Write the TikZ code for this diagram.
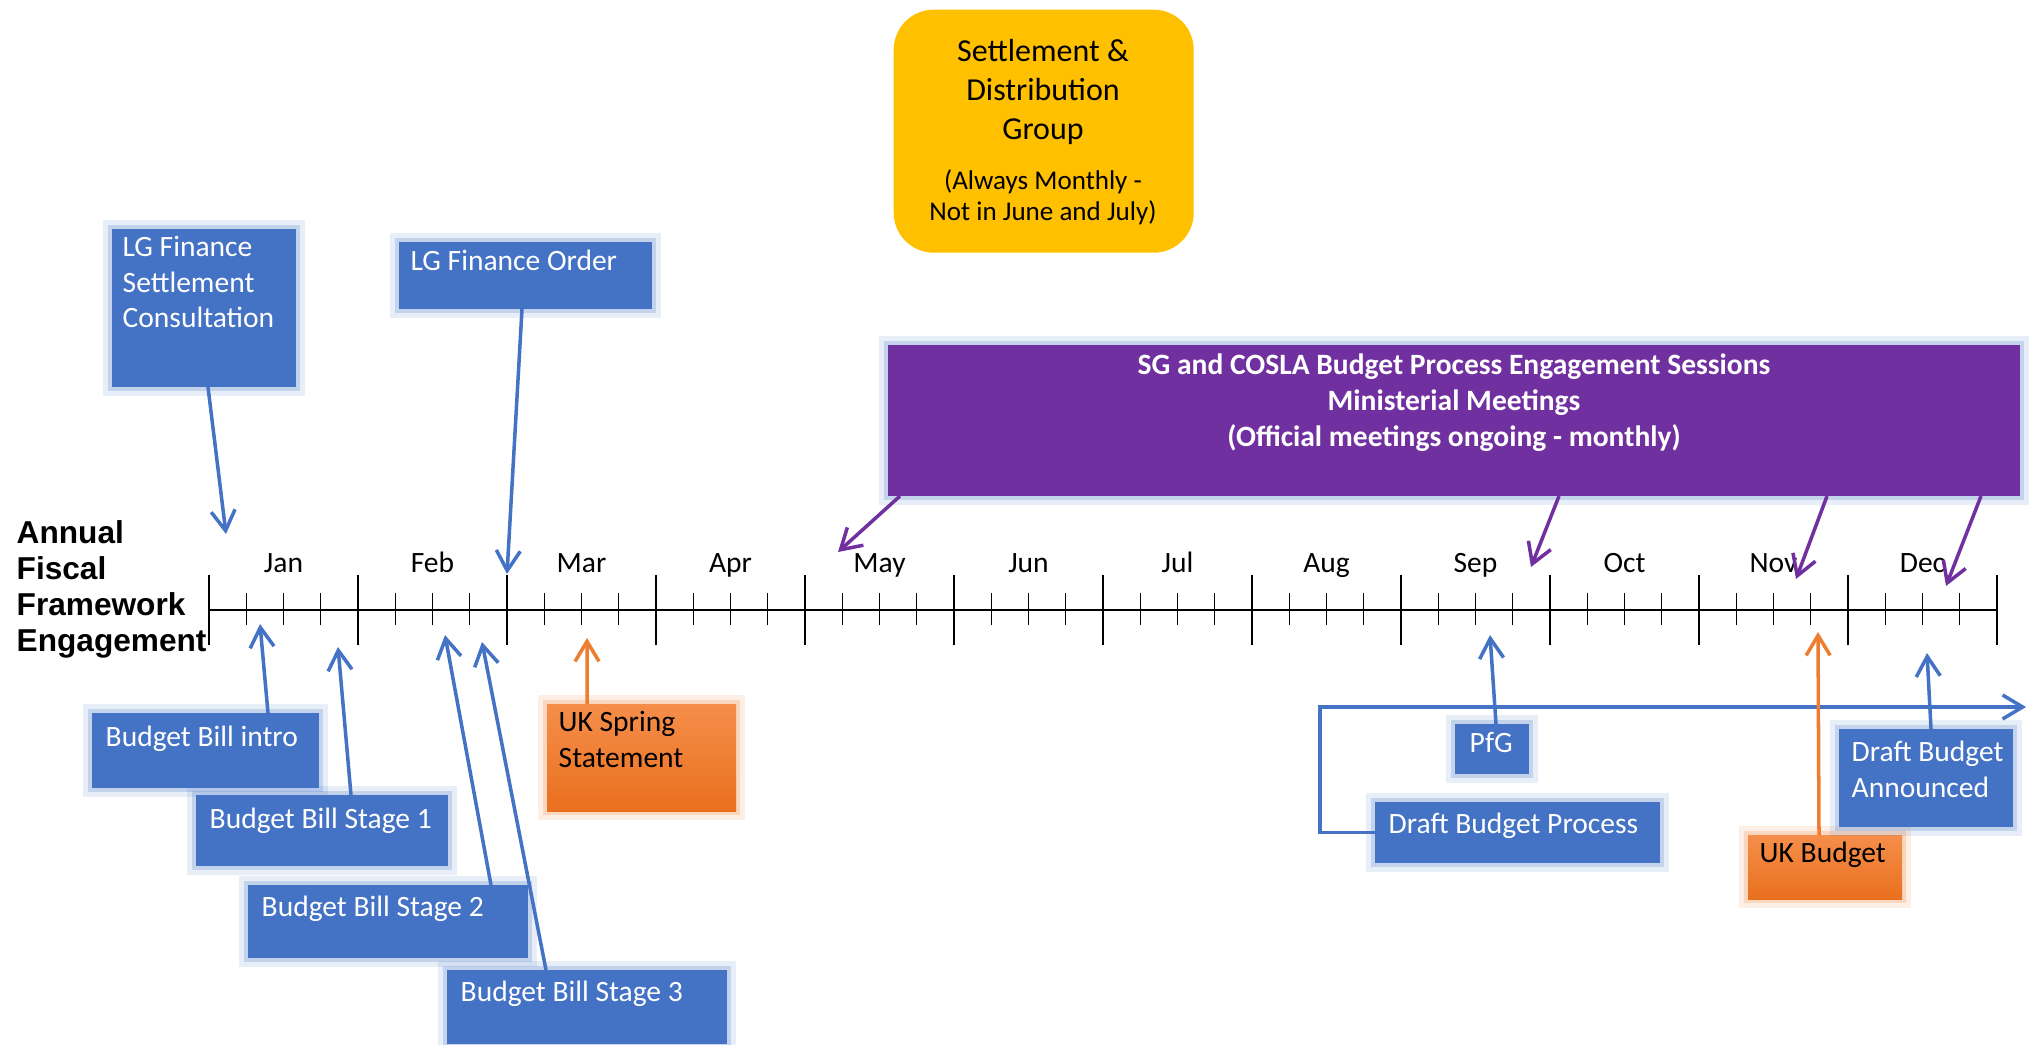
\documentclass[tikz,border=0pt]{standalone}
\usepackage{fontspec}
\setmainfont{Carlito}
\newfontfamily\arialfont{Liberation Sans}
\usetikzlibrary{arrows.meta}
\definecolor{ffblue}{HTML}{4472C4}
\definecolor{fforange}{HTML}{ED7D31}
\definecolor{fforangetop}{RGB}{245,142,74}
\definecolor{fforangebot}{RGB}{233,112,30}
\definecolor{ffpurple}{HTML}{7030A0}
\definecolor{ffgold}{HTML}{FFC000}
\newcommand{\ffboxfont}{\fontsize{8.4}{10.24}\selectfont}

\begin{document}
\begin{tikzpicture}[
  glow/.style={preaction={draw=#1, draw opacity=0.12, line width=5pt},
    preaction={draw=#1, draw opacity=0.22, line width=2.5pt}},
  bluebox/.style={glow=ffblue, fill=ffblue,
    outer sep=0pt, inner sep=0pt, anchor=north west},
  orangebox/.style={glow=fforange, top color=fforangetop, bottom color=fforangebot,
    outer sep=0pt, inner sep=0pt, anchor=north west},
  boxtext/.style={anchor=north west, inner sep=0pt, align=left,
    text=white, font=\ffboxfont},
  link/.style={line width=1pt, -{Straight Barb[length=2mm,width=2.4mm]}},
  tick/.style={line width=0.4pt}
]
\useasboundingbox (0,0) rectangle (20.36,10.44);

% time line
\draw[line width=0.6pt] (2.09,4.34) -- (19.97,4.34);
\foreach \m in {0,...,12}
  \draw[tick] ({2.09+1.49*\m},3.99) -- ++(0,0.70);
\foreach \m in {0,...,11}
  \foreach \q in {1,2,3}
    \draw[tick] ({2.09+1.49*(\m+\q/4)},4.19) -- ++(0,0.32);
\foreach \mon [count=\i from 0] in {Jan,Feb,Mar,Apr,May,Jun,Jul,Aug,Sep,Oct,Nov,Dec}
  \node[anchor=base, inner sep=0pt, font=\ffboxfont] (month\i) at ({2.09+1.49*(\i+0.5)},4.72) {\mon};

% title on the left
\node[anchor=west, inner sep=0pt, align=left,
  font=\arialfont\bfseries\fontsize{9}{10.24}\selectfont] (afe) at (0.16,4.55)
  {Annual\\Fiscal\\Framework\\Engagement};

% settlement group
\node[fill=ffgold, rounded corners=0.4cm, minimum width=3cm, minimum height=2.43cm,
  anchor=north west, inner sep=0pt] (sdg) at (8.93,10.35) {};
\node[anchor=north, inner sep=0pt, align=center, font=\fontsize{9.1}{11.1}\selectfont]
  (sdg-txt) at (10.43,10.05) {Settlement \&\\Distribution\\Group};
\node[anchor=north, inner sep=0pt, align=center, font=\fontsize{7.7}{8.8}\selectfont]
  (sdg-note) at (10.43,8.75) {(Always Monthly -\\Not in June and July)};

% engagement sessions
\node[bluebox, fill=ffpurple, minimum width=11.32cm, minimum height=1.51cm] (sessions) at (8.88,6.99) {};
\node[boxtext, anchor=north, align=center, font=\ffboxfont\bfseries] (sessions-txt) at (14.54,6.91)
  {SG and COSLA Budget Process Engagement Sessions\\Ministerial Meetings\\(Official meetings ongoing - monthly)};

% boxes above the line
\node[bluebox, minimum width=1.84cm, minimum height=1.58cm] (lgfsc) at (1.12,8.15) {};
\node[boxtext] (lgfsc-txt) at (1.22,8.09) {LG Finance\\Settlement\\Consultation};
\node[bluebox, minimum width=2.53cm, minimum height=0.67cm] (lgfo) at (3.99,8.02) {};
\node[boxtext] (lgfo-txt) at (4.10,7.95) {LG Finance Order};

% boxes below the line
\node[bluebox, minimum width=2.27cm, minimum height=0.75cm] (bbintro) at (0.92,3.31) {};
\node[boxtext] (bbintro-txt) at (1.05,3.19) {Budget Bill intro};
\node[bluebox, minimum width=2.52cm, minimum height=0.71cm] (bbs1) at (1.96,2.49) {};
\node[boxtext] (bbs1-txt) at (2.09,2.37) {Budget Bill Stage 1};
\node[bluebox, minimum width=2.80cm, minimum height=0.73cm] (bbs2) at (2.48,1.59) {};
\node[boxtext] (bbs2-txt) at (2.61,1.49) {Budget Bill Stage 2};
\node[bluebox, minimum width=2.80cm, minimum height=0.74cm] (bbs3) at (4.47,0.74) {};
\node[boxtext] (bbs3-txt) at (4.60,0.64) {Budget Bill Stage 3};
\node[orangebox, minimum width=1.89cm, minimum height=1.07cm] (ukss) at (5.47,3.40) {};
\node[boxtext, text=black] (ukss-txt) at (5.58,3.34) {UK Spring\\Statement};

\node[bluebox, minimum width=0.74cm, minimum height=0.50cm] (pfg) at (14.55,3.20) {};
\node[boxtext] (pfg-txt) at (14.69,3.12) {PfG};
\node[bluebox, minimum width=2.85cm, minimum height=0.61cm] (dbp) at (13.75,2.42) {};
\node[boxtext] (dbp-txt) at (13.88,2.32) {Draft Budget Process};
\node[orangebox, minimum width=1.54cm, minimum height=0.64cm] (ukb) at (17.48,2.09) {};
\node[boxtext, text=black] (ukb-txt) at (17.59,2.03) {UK Budget};
\node[bluebox, minimum width=1.74cm, minimum height=0.98cm] (dba) at (18.39,3.15) {};
\node[boxtext] (dba-txt) at (18.51,3.04) {Draft Budget\\Announced};

% arrow ends on the time line
\coordinate (t-lgfsc) at (2.26,5.10);
\coordinate (t-lgfo) at (5.07,4.70);
\coordinate (t-bbintro) at (2.60,4.20);
\coordinate (t-bbs1) at (3.38,3.97);
\coordinate (t-bbs2) at (4.45,4.09);
\coordinate (t-bbs3) at (4.82,4.02);
\coordinate (t-ukss) at (5.87,4.06);
\coordinate (t-pfg) at (14.90,4.09);
\coordinate (t-ukb) at (18.18,4.12);
\coordinate (t-dba) at (19.27,3.91);
\coordinate (c-dbp) at (13.20,3.37);
\coordinate (e-dbp) at (20.26,3.37);
\coordinate (t-may) at (8.38,4.92);
\coordinate (t-sep) at (15.31,4.77);
\coordinate (t-nov) at (17.96,4.65);
\coordinate (t-dec) at (19.46,4.58);

\draw[link, ffblue] ([xshift=0.04cm]lgfsc.south) -- (t-lgfsc);
\draw[link, ffblue] ([xshift=-0.035cm]lgfo.south) -- (t-lgfo);
\draw[link, ffblue] ([xshift=0.625cm]bbintro.north) -- (t-bbintro);
\draw[link, ffblue] ([xshift=0.29cm]bbs1.north) -- (t-bbs1);
\draw[link, ffblue] ([xshift=1.03cm]bbs2.north) -- (t-bbs2);
\draw[link, ffblue] ([xshift=-0.41cm]bbs3.north) -- (t-bbs3);
\draw[link, fforange] ([xshift=-0.545cm]ukss.north) -- (t-ukss);
\draw[link, ffblue] ([xshift=0.04cm]pfg.north) -- (t-pfg);
\draw[link, ffblue] (dbp.west) -| (c-dbp) -- (e-dbp);
\draw[link, fforange] ([xshift=-0.06cm]ukb.north) -- (t-ukb);
\draw[link, ffblue] ([xshift=0.05cm]dba.north) -- (t-dba);

% monthly sessions
\draw[link, ffpurple] ([xshift=-5.54cm]sessions.south) -- (t-may);
\draw[link, ffpurple] ([xshift=1.05cm]sessions.south) -- (t-sep);
\draw[link, ffpurple] ([xshift=3.73cm]sessions.south) -- (t-nov);
\draw[link, ffpurple] ([xshift=5.27cm]sessions.south) -- (t-dec);

\end{tikzpicture}
\end{document}
